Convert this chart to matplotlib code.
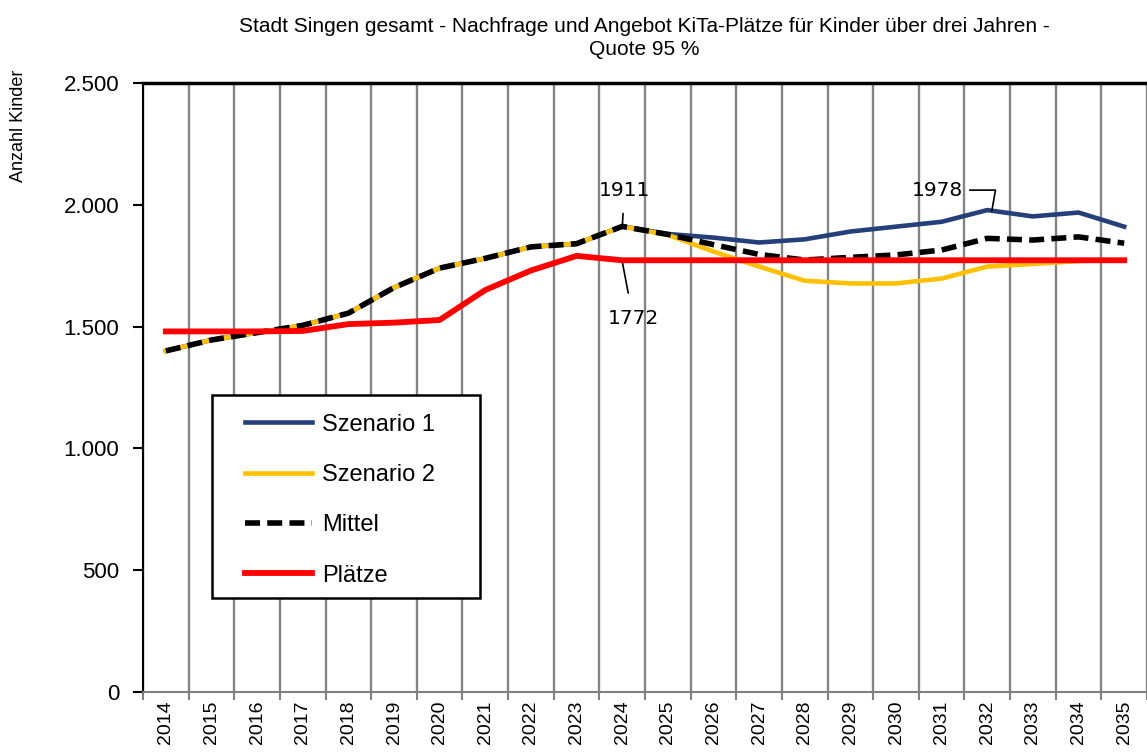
import numpy as np
import matplotlib
matplotlib.use("Agg")
import matplotlib.pyplot as plt
from matplotlib.patches import Rectangle
from matplotlib.ticker import FuncFormatter

# Data
years = list(range(2014, 2036))
szenario1 = [1400, 1445, 1475, 1505, 1555, 1660, 1740, 1780, 1827, 1840, 1911, 1880,
             1865, 1845, 1858, 1890, 1910, 1930, 1978, 1952, 1968, 1910]
szenario2 = [1400, 1445, 1475, 1505, 1555, 1660, 1740, 1780, 1827, 1840, 1911, 1876,
             1808, 1746, 1688, 1677, 1677, 1697, 1746, 1757, 1769, 1773]
mittel = [1400, 1445, 1475, 1505, 1555, 1660, 1740, 1780, 1827, 1840, 1911, 1878,
          1836, 1796, 1773, 1784, 1794, 1814, 1862, 1855, 1868, 1842]
plaetze = [1480, 1480, 1480, 1482, 1510, 1516, 1527, 1650, 1730, 1790, 1772, 1772,
           1772, 1772, 1772, 1772, 1772, 1772, 1772, 1772, 1772, 1772]

plt.rcParams['font.family'] = ['Liberation Sans', 'DejaVu Sans']

fig = plt.figure(figsize=(11.47, 7.53), dpi=100)
ax = fig.add_axes([0.1247, 0.081, 0.8753, 0.8089])

x = np.arange(len(years))
ax.plot(x, szenario1, color='#243f7a', lw=3.3, label='Szenario 1', zorder=3)
ax.plot(x, szenario2, color='#ffc000', lw=3.3, label='Szenario 2', zorder=4)
ax.plot(x, mittel, color='black', lw=4.0, ls=(0, (2.7, 1.3)), label='Mittel', zorder=5)
ax.plot(x, plaetze, color='#ff0000', lw=4.2, label='Plätze', zorder=6)

ax.set_xlim(-0.5, len(years) - 0.5)
ax.set_ylim(0, 2500)

# year boundaries as gridlines, labels at the centres
ax.set_xticks(np.arange(-0.5, len(years), 1.0))
ax.set_xticklabels([])
ax.set_xticks(x, minor=True)
ax.set_xticklabels([str(y) for y in years], minor=True, rotation=90, fontsize=14)
ax.tick_params(axis='x', which='major', length=6, width=1.5, color='#808080', direction='out')
ax.tick_params(axis='x', which='minor', length=0, pad=6)
ax.grid(axis='x', which='major', color='#848484', lw=1.7)

ax.set_yticks(np.arange(0, 2501, 500))
ax.yaxis.set_major_formatter(FuncFormatter(lambda v, p: f"{int(v):,}".replace(',', '.')))
ax.tick_params(axis='y', length=7, width=1.5, labelsize=16, pad=10)
ax.axhline(2500, color='black', lw=2.5, zorder=7, clip_on=False)

ax.spines['left'].set_linewidth(1.5)
ax.spines['bottom'].set_color('#808080')
ax.spines['bottom'].set_linewidth(1.5)
ax.spines['right'].set_visible(False)
ax.spines['top'].set_visible(False)

fig.text(0.016, 0.908, 'Anzahl Kinder', rotation=90, ha='center', va='top', fontsize=13)

fig.text(0.562, 0.950, 'Stadt Singen gesamt - Nachfrage und Angebot KiTa-Plätze für Kinder über drei Jahren -\nQuote 95 %',
         ha='center', va='center', fontsize=15, linespacing=1.25)

# data labels with leader lines
ax.annotate('1911', xy=(10, 1905), xytext=(10.05, 2060), ha='center', va='center',
            fontsize=14.5, family='DejaVu Sans',
            arrowprops=dict(arrowstyle='-', color='black', lw=1.2, shrinkA=8, shrinkB=0))
ax.annotate('1772', xy=(10.0, 1768), xytext=(10.24, 1531), ha='center', va='center',
            fontsize=14.5, family='DejaVu Sans',
            arrowprops=dict(arrowstyle='-', color='black', lw=1.2, shrinkA=10, shrinkB=0))
ax.annotate('1978', xy=(18.1, 1975), xytext=(16.9, 2060), ha='center', va='center',
            fontsize=14.5, family='DejaVu Sans',
            arrowprops=dict(arrowstyle='-', color='black', lw=1.2, shrinkA=3, shrinkB=0,
                            connectionstyle='angle,angleA=0,angleB=80,rad=0',
                            relpos=(1.0, 0.5)))

# legend: framed box drawn separately so the inner padding can match
box = Rectangle((0.069, 0.154), 0.267, 0.333, transform=ax.transAxes, facecolor='white',
                edgecolor='black', lw=1.8, zorder=9)
ax.add_patch(box)
leg = ax.legend(loc='upper left', bbox_to_anchor=(0.1016, 0.457), fontsize=17,
                handlelength=2.85, handletextpad=0.4, labelspacing=1.2,
                borderpad=0, frameon=False, borderaxespad=0)
leg.set_zorder(10)

fig.savefig('out.png', dpi=100)
